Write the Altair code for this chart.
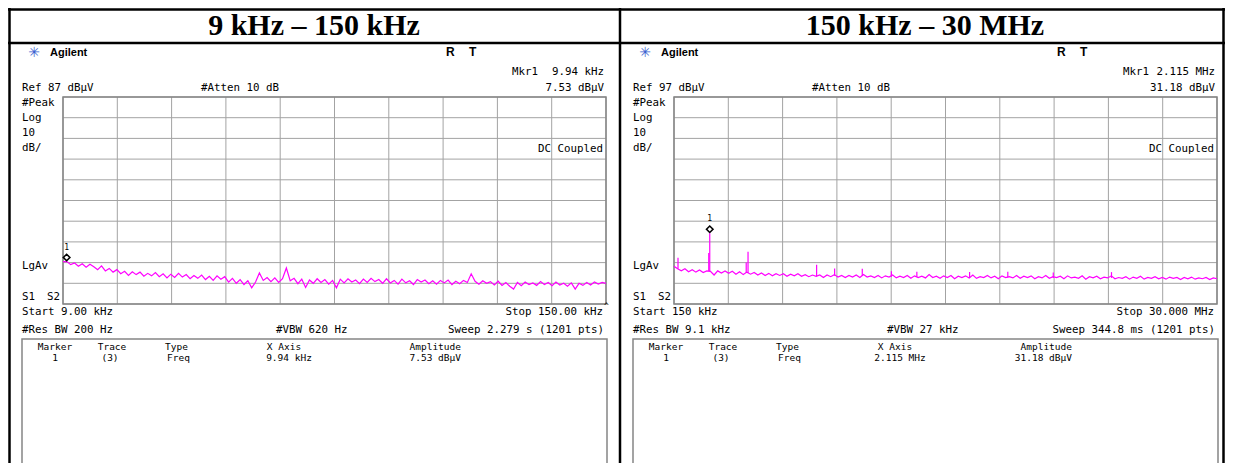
import altair as alt
import pandas as pd

# ------------------------------------------------------------------ data
LEFT_TITLE = "9 kHz – 150 kHz"
RIGHT_TITLE = "150 kHz – 30 MHz"

# left sweep: 9 kHz .. 150 kHz, one reading per kHz (dBµV), ref 87, 10 dB/div
left_start, left_stop = 9.0, 150.0
left_ref, left_bot = 87, -13
left_trace = [
    7.5, 7.5, 6.0, 6.8, 5.2, 6.4, 4.8, 6.2, 5.0, 3.6, 5.4, 3.0, 4.2, 2.4, 3.6, 1.6,
    2.8, 0.8, 2.6, 1.2, 2.4, 0.4, 1.8, 0.6, 2.2, 0.2, 1.6, -0.4, 1.4, -0.2, 1.8, 0.0,
    1.2, -0.8, 0.8, -0.6, 1.0, -1.2, 0.4, -1.6, 0.6, -1.0, 0.2, -2.4, -0.6, -3.0, -1.2,
    -3.6, -1.8, -5.2, -2.4, 2.0, -1.6, -0.2, -2.2, -0.4, -2.6, -0.8, 4.4, -1.8, -0.6,
    -3.2, -1.0, -5.0, -1.4, -3.0, -0.8, -2.6, -1.2, -3.4, -1.6, -5.2, -1.0, -2.8, -0.8,
    -2.4, -1.4, -3.2, -1.0, -2.6, -0.6, -2.2, -1.2, -3.0, -0.8, -2.8, -1.6, -3.4, -1.0,
    -2.8, -1.8, -3.6, -1.2, -2.4, -1.4, -3.2, -1.8, -3.4, -1.6, -2.8, -1.4, -3.6, -2.0,
    -3.2, -1.6, -2.6, 1.6, -2.0, -3.4, -1.8, -3.0, -2.2, -3.8, -2.0, -4.0, -2.6, -4.4,
    -5.8, -2.6, -4.2, -2.4, -3.6, -2.8, -4.0, -2.2, -3.6, -2.6, -4.2, -2.4, -3.8, -3.0,
    -4.4, -2.8, -5.8, -3.0, -4.0, -2.6, -3.8, -2.4, -3.4, -2.6, -3.0,
]
left_grid_f = [9.0, 23.1, 37.2, 51.3, 65.4, 79.5, 93.6, 107.7, 121.8, 135.9, 150.0]
left_grid_db = [87, 77, 67, 57, 47, 37, 27, 17, 7, -3, -13]
left_marker_f, left_marker_db = [9.94], [7.53]

# right sweep: 150 kHz .. 30 MHz, 150 readings (dBµV), ref 97, 10 dB/div
right_start, right_stop = 0.15, 30.0
right_ref, right_bot = 97, -3
right_trace = [
    15.2, 14.0, 13.0, 14.0, 12.6, 13.6, 12.4, 13.4, 12.2, 13.0, 12.8, 11.0, 13.0, 12.0,
    13.0, 11.8, 12.8, 11.4, 12.6, 11.2, 12.4, 11.4, 12.2, 11.0, 12.0, 10.8, 11.8, 10.6,
    11.6, 10.8, 11.6, 10.4, 11.4, 10.6, 11.6, 10.4, 11.2, 10.2, 11.0, 10.4, 11.0, 9.8,
    11.0, 10.2, 11.2, 10.0, 10.8, 9.8, 10.8, 10.0, 11.0, 9.8, 11.2, 10.0, 10.6, 9.8,
    10.8, 9.6, 10.6, 10.0, 11.0, 9.6, 10.4, 9.8, 10.8, 9.4, 10.6, 9.8, 10.4, 9.6, 11.2,
    9.8, 10.4, 9.4, 10.6, 9.8, 10.8, 9.2, 10.4, 9.8, 10.6, 9.6, 11.0, 9.4, 10.2, 9.8,
    10.8, 9.6, 10.4, 9.2, 10.6, 9.8, 10.2, 9.6, 10.8, 9.4, 10.4, 9.8, 10.6, 9.2, 10.2,
    9.6, 10.8, 9.4, 10.2, 9.8, 10.4, 9.2, 10.6, 9.6, 10.0, 9.4, 10.6, 9.0, 10.2, 9.6,
    10.4, 9.2, 10.0, 9.6, 10.6, 9.2, 9.8, 9.4, 10.2, 9.0, 10.0, 9.4, 10.4, 9.0, 9.8, 9.4,
    10.2, 9.2, 9.8, 9.0, 10.0, 9.4, 9.8, 8.8, 9.8, 9.2, 10.0, 9.0, 9.6, 9.2, 9.8, 8.8,
    9.6, 9.2,
]
right_spike_f = [0.37, 2.06, 2.115, 4.12, 4.22, 7.99, 8.98, 10.5, 12.1, 13.5, 16.4, 18.5, 21.0, 24.2]
right_spike_top = [19.4, 21.6, 31.18, 17.0, 22.3, 16.0, 14.2, 14.0, 12.8, 12.6, 12.4, 12.6, 12.2, 12.4]
right_spike_base = [14.0, 12.8, 12.8, 12.0, 12.0, 10.4, 10.6, 10.6, 10.2, 10.0, 9.8, 9.8, 9.6, 9.6]
right_grid_f = [0.15, 3.135, 6.12, 9.105, 12.09, 15.075, 18.06, 21.045, 24.03, 27.015, 30.0]
right_grid_db = [97, 87, 77, 67, 57, 47, 37, 27, 17, 7, -3]
right_marker_f, right_marker_db = [2.115], [31.18]

left_text = {
    "mkr": "9.94 kHz", "ref": "Ref 87 dBµV", "atten": "#Atten 10 dB", "amp": "7.53 dBµV",
    "start": "Start 9.00 kHz", "stop": "Stop 150.00 kHz", "rbw": "#Res BW 200 Hz",
    "vbw": "#VBW 620 Hz", "sweep": "Sweep 2.279 s (1201 pts)",
    "mk_x": "9.94 kHz", "mk_amp": "7.53 dBµV", "caret": "^",
}
right_text = {
    "mkr": "2.115 MHz", "ref": "Ref 97 dBµV", "atten": "#Atten 10 dB", "amp": "31.18 dBµV",
    "start": "Start 150 kHz", "stop": "Stop 30.000 MHz", "rbw": "#Res BW 9.1 kHz",
    "vbw": "#VBW 27 kHz", "sweep": "Sweep 344.8 ms (1201 pts)",
    "mk_x": "2.115 MHz", "mk_amp": "31.18 dBµV", "caret": "",
}
side_labels = ["#Peak", "Log", "10", "dB/"]
table_head = ["Marker", "Trace", "Type", "X Axis", "Amplitude"]
table_row = ["1", "(3)", "Freq"]

# ------------------------------------------------------------------ helpers
MONO = "DejaVu Sans Mono"
SANS = "Liberation Sans"
SERIF = "Liberation Serif"
GRID = "#a3a3a3"
FRAME = "#858585"
TRACE = "#ff00ff"
one = pd.DataFrame({"k": [0]})
O = 8  # page margin: reference pixel -> chart pixel


def txt(s, x, y, size=10.8, align="left", font=MONO, weight="normal", color="black",
        baseline="middle"):
    return alt.Chart(one).mark_text(
        text=s, align=align, baseline=baseline, font=font, fontSize=size,
        fontWeight=weight, color=color,
    ).encode(x=alt.value(x - O), y=alt.value(y - O))


def rule(x, y, x2, y2, color="black", w=2.0):
    return alt.Chart(one).mark_rule(color=color, strokeWidth=w).encode(
        x=alt.value(x - O), y=alt.value(y - O), x2=alt.value(x2 - O), y2=alt.value(y2 - O)
    )


def box(x, y, x2, y2, color=FRAME, w=1.5):
    return alt.Chart(one).mark_rect(fillOpacity=0, stroke=color, strokeWidth=w).encode(
        x=alt.value(x - O), y=alt.value(y - O), x2=alt.value(x2 - O), y2=alt.value(y2 - O)
    )


def panel(dx, title, t, fstart, fstop, ref, bot, trace, grid_f, grid_db, mk_f, mk_db,
          spikes=None):
    gx0, gx1, gy0, gy1 = 63 + dx, 606 + dx, 97, 304
    xs = alt.Scale(domain=[fstart, fstop], range=[gx0 - O, gx1 - O], zero=False, nice=False)
    ys = alt.Scale(domain=[bot, ref], range=[gy1 - O, gy0 - O], zero=False, nice=False)
    n = len(trace)
    freqs = [fstart + i * (fstop - fstart) / (n - 1) for i in range(n)]
    df = pd.DataFrame({"f": freqs, "v": trace})
    L = []
    cx = 314 + dx
    L.append(txt(title, cx, 35, size=30, align="center", font=SERIF, weight="bold",
                 baseline="alphabetic"))
    # instrument header
    L.append(txt("✳", 34 + dx, 53, size=14, align="center", font="DejaVu Sans",
                 color="#3a5fd0"))
    L.append(txt("Agilent", 50 + dx, 53, size=11, font=SANS, weight="bold"))
    L.append(txt("R", 446 + dx, 52, size=12, font=SANS, weight="bold"))
    L.append(txt("T", 469 + dx, 52, size=12, font=SANS, weight="bold"))
    L.append(txt("Mkr1", 512 + dx, 72))
    L.append(txt(t["mkr"], 604 + dx, 72, align="right"))
    L.append(txt(t["ref"], 22 + dx, 88))
    L.append(txt(t["atten"], 201 + dx, 88))
    L.append(txt(t["amp"], 604 + dx, 88, align="right"))
    for s, yy in zip(side_labels, [103, 118, 133, 148]):
        L.append(txt(s, 22 + dx, yy))
    L.append(txt("LgAv", 22 + dx, 266))
    L.append(txt("S1", 22 + dx, 297))
    L.append(txt("S2", 47 + dx, 297))
    # grid
    gv = pd.DataFrame({"g": grid_f})
    gh = pd.DataFrame({"d": grid_db})
    L.append(alt.Chart(gv).mark_rule(color=GRID, strokeWidth=1).encode(
        x=alt.X("g:Q", scale=xs, axis=None), y=alt.value(gy0 - O), y2=alt.value(gy1 - O)))
    L.append(alt.Chart(gh).mark_rule(color=GRID, strokeWidth=1).encode(
        y=alt.Y("d:Q", scale=ys, axis=None), x=alt.value(gx0 - O), x2=alt.value(gx1 - O)))
    L.append(box(gx0, gy0, gx1, gy1, color=FRAME, w=1.5))
    L.append(txt("DC Coupled", 603 + dx, 149, align="right"))
    # trace
    L.append(alt.Chart(df).mark_line(color=TRACE, strokeWidth=1.2).encode(
        x=alt.X("f:Q", scale=xs, axis=None), y=alt.Y("v:Q", scale=ys, axis=None)))
    if spikes is not None:
        sp = pd.DataFrame({"f": spikes[0], "top": spikes[1], "base": spikes[2]})
        L.append(alt.Chart(sp).mark_rule(color=TRACE, strokeWidth=1.2).encode(
            x=alt.X("f:Q", scale=xs, axis=None),
            y=alt.Y("top:Q", scale=ys, axis=None), y2="base:Q"))
    mk = pd.DataFrame({"f": mk_f, "v": mk_db})
    L.append(alt.Chart(mk).mark_point(shape="diamond", filled=False, color="black",
                                      strokeWidth=1.6, size=42, yOffset=-4, opacity=1).encode(
        x=alt.X("f:Q", scale=xs, axis=None), y=alt.Y("v:Q", scale=ys, axis=None)))
    L.append(alt.Chart(mk).mark_text(text="1", font=MONO, fontSize=8, dy=-14, color="black")
             .encode(x=alt.X("f:Q", scale=xs, axis=None), y=alt.Y("v:Q", scale=ys, axis=None)))
    # footer
    L.append(txt(t["start"], 22 + dx, 312))
    L.append(txt(t["stop"], 603 + dx, 312, align="right"))
    if t["caret"]:
        L.append(txt(t["caret"], 604 + dx, 307, size=8))
    L.append(txt(t["rbw"], 22 + dx, 330))
    L.append(txt(t["vbw"], 276 + dx, 330))
    L.append(txt(t["sweep"], 604 + dx, 330, align="right"))
    # marker table
    L.append(box(22 + dx, 339, 607 + dx, 470, color=FRAME, w=1.5))
    hs = 9.5
    L.append(txt(table_head[0], 55 + dx, 347, size=hs, align="center"))
    L.append(txt(table_head[1], 112 + dx, 347, size=hs, align="center"))
    L.append(txt(table_head[2], 165 + dx, 347, size=hs))
    L.append(txt(table_head[3], 284 + dx, 347, size=hs, align="center"))
    L.append(txt(table_head[4], 461 + dx, 347, size=hs, align="right"))
    L.append(txt(table_row[0], 55 + dx, 358, size=hs, align="center"))
    L.append(txt(table_row[1], 110 + dx, 358, size=hs, align="center"))
    L.append(txt(table_row[2], 167 + dx, 358, size=hs))
    L.append(txt(t["mk_x"], 289 + dx, 358, size=hs, align="center"))
    L.append(txt(t["mk_amp"], 461 + dx, 358, size=hs, align="right"))
    return L


layers = []
# table frame
layers.append(rule(8, 9.5, 1225, 9.5, w=2.5))
layers.append(rule(8, 43, 1225, 43, w=2.5))
layers.append(rule(9.5, 8, 9.5, 480, w=2.5))
layers.append(rule(620, 8, 620, 480, w=2.5))
layers.append(rule(1223.5, 8, 1223.5, 480, w=2.5))

layers += panel(0, LEFT_TITLE, left_text, left_start, left_stop, left_ref, left_bot,
                left_trace, left_grid_f, left_grid_db, left_marker_f, left_marker_db)
layers += panel(611, RIGHT_TITLE, right_text, right_start, right_stop, right_ref, right_bot,
                right_trace, right_grid_f, right_grid_db, right_marker_f, right_marker_db,
                spikes=(right_spike_f, right_spike_top, right_spike_base))

chart = alt.layer(*layers).resolve_scale(x="independent", y="independent").properties(
    width=1217, height=455, autosize=alt.AutoSizeParams(type="none"), padding=0,
    background="white",
).configure_view(strokeWidth=0)

chart.save("out.html", embed_options={"renderer": "svg", "actions": False})
